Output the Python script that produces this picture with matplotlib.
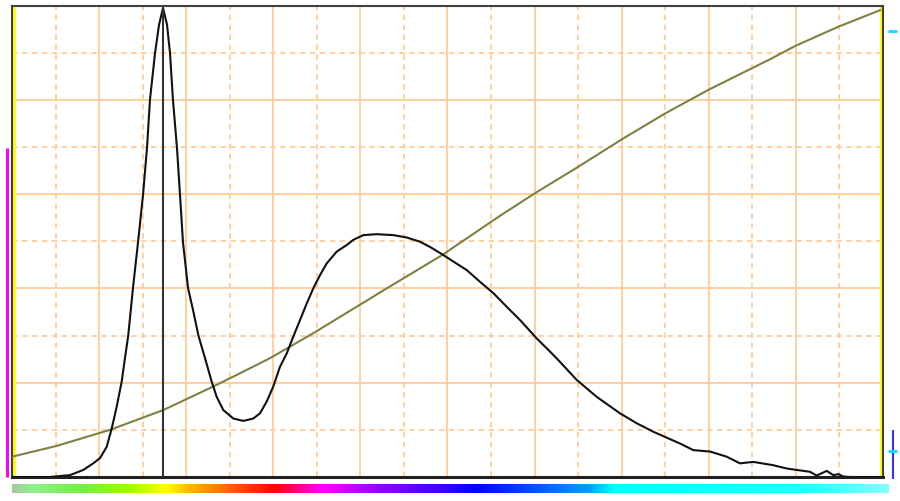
import numpy as np
import matplotlib
matplotlib.use("Agg")
import matplotlib.pyplot as plt
from matplotlib.colors import LinearSegmentedColormap

# Histogram (black) curve: channel vs. relative count
hist_x = [0, 43.6, 66.6, 81.9, 93.3, 101.0, 108.7, 114.5, 120.2, 125.9, 129.7, 133.5, 138.9,
          144.7, 150.4, 155.0, 158.4, 164.2, 168.8, 173.4, 178.0, 181.4, 184.8, 189.4, 192.9,
          196.3, 202.1, 208.2, 213.9, 221.6, 229.3, 235.0, 242.6, 254.1, 265.6, 277.0, 284.7,
          292.4, 300.0, 307.7, 315.4, 323.0, 330.7, 338.4, 345.9, 353.6, 361.3, 372.8, 384.3,
          391.9, 403.3, 418.7, 437.8, 453.2, 468.4, 479.9, 493.3, 506.7, 522.0, 537.3, 552.6,
          568.0, 583.2, 602.4, 617.7, 627.2, 648.3, 671.3, 698.1, 717.2, 736.3, 766.9, 782.2,
          801.4, 820.6, 835.8, 851.1, 874.0, 889.4, 900.9, 916.2, 923.9, 935.4, 942.9, 948.7,
          954.4, 962.1, 1000]
hist_y = [0, 0, 0.4, 1.5, 2.9, 4.0, 6.4, 10.3, 14.9, 20.2, 25.2, 30.1, 40.1,
          49.8, 59.8, 69.8, 80.0, 89.9, 95.9, 99.5, 95.9, 89.9, 80.0, 69.8, 59.8,
          49.8, 40.1, 35.1, 30.1, 25.2, 20.2, 17.0, 14.2, 12.4, 11.9, 12.4, 13.5,
          16.0, 19.2, 23.4, 26.2, 29.8, 33.3, 36.8, 40.0, 42.8, 45.3, 47.8, 49.2,
          50.3, 51.3, 51.5, 51.3, 50.8, 49.9, 48.8, 47.3, 45.7, 43.9, 41.4, 39.0,
          36.1, 33.3, 29.4, 26.6, 24.8, 20.6, 17.0, 13.5, 11.4, 9.6, 7.1, 5.7,
          5.4, 4.3, 2.9, 3.2, 2.5, 1.8, 1.5, 1.1, 0.3, 1.3, 0.4, 0.6,
          0.1, 0, 0]

# Cumulative (olive) curve
cum_x = [0, 51.3, 112.5, 173.7, 231.1, 261.8, 296.2, 345.9, 430.2, 493.3,
         560.3, 600.5, 650.2, 700.0, 749.8, 799.4, 870.3, 899.0, 948.7, 996.6]
cum_y = [4.3, 6.6, 10.0, 14.2, 19.2, 22.0, 25.2, 30.5, 40.0, 47.0,
         55.4, 60.2, 65.8, 71.6, 77.1, 82.1, 88.6, 91.4, 95.5, 99.0]

peak_marker_x = 173.4
left_gate_x = 2.5
right_gate_x = 997.5

# Colour bar stops
bar_pos = [0, 0.0205, 0.0775, 0.1345, 0.1745, 0.197, 0.2315, 0.2999, 0.351, 0.4196,
           0.488, 0.528, 0.659, 0.688, 0.899, 1.0]
bar_cols = ["#a8c8a0", "#90f090", "#70f040", "#a0ff00", "#ffff00", "#ffc000", "#ff8000",
            "#ff0000", "#ff00ff", "#9000ff", "#4000ff", "#0000ff", "#00a0ff", "#00ffff",
            "#20ffff", "#80ffff"]

fig = plt.figure(figsize=(9.0, 5.01), dpi=100)
ax = fig.add_axes([12/900, 24/501, 871/900, 471.5/501])
ax.set_xlim(0, 1000)
ax.set_ylim(0, 100)

grid_col = "#ffcc99"
for gx in np.arange(50, 1000, 50):
    major = (round(gx) % 100 == 0)
    ax.axvline(gx, color=grid_col, lw=1.3, ls="-" if major else (0, (3, 2.5)), zorder=1)
for gy in np.arange(10, 100, 10):
    major = (round(gy) % 20 == 0)
    ax.axhline(gy, color=grid_col, lw=1.3, ls="-" if major else (0, (3, 2.5)), zorder=1)

ax.axvline(left_gate_x, color="#ffff00", lw=2.0, zorder=2)
ax.axvline(right_gate_x, color="#ffff00", lw=2.0, zorder=2)

ax.plot(cum_x, cum_y, color="#808040", lw=1.5, zorder=3)
ax.plot(hist_x, hist_y, color="#111111", lw=1.5, zorder=4)
ax.axvline(peak_marker_x, color="#333333", lw=1.5, zorder=4)

ax.set_xticks([])
ax.set_yticks([])
for s in ["top", "left", "right"]:
    ax.spines[s].set_color("#404040")
    ax.spines[s].set_linewidth(1.5)
ax.spines["bottom"].set_color("#202020")
ax.spines["bottom"].set_linewidth(2.2)

# side markers (outside the plot frame)
ax.plot([-0.0063, -0.0063], [0, 0.6985], transform=ax.transAxes, color="#ff00ff",
        lw=2.2, clip_on=False, solid_capstyle="butt")
ax.plot([1.0057, 1.016], [0.945, 0.945], transform=ax.transAxes, color="#00ddff",
        lw=2.0, clip_on=False, solid_capstyle="butt")
ax.plot([1.0115, 1.0115], [-0.004, 0.0998], transform=ax.transAxes, color="#3333ff",
        lw=1.5, clip_on=False, solid_capstyle="butt")
ax.plot([1.0057, 1.016], [0.055, 0.055], transform=ax.transAxes, color="#00ddff",
        lw=2.0, clip_on=False, solid_capstyle="butt")

# colour bar
cax = fig.add_axes([12/900, 8/501, 877/900, 9/501])
cmap = LinearSegmentedColormap.from_list("spec", list(zip(bar_pos, bar_cols)))
cax.imshow(np.linspace(0, 1, 512)[None, :], aspect="auto", cmap=cmap,
           extent=[0, 1, 0, 1])
cax.set_axis_off()

fig.savefig("out.png", dpi=100, facecolor="white")
